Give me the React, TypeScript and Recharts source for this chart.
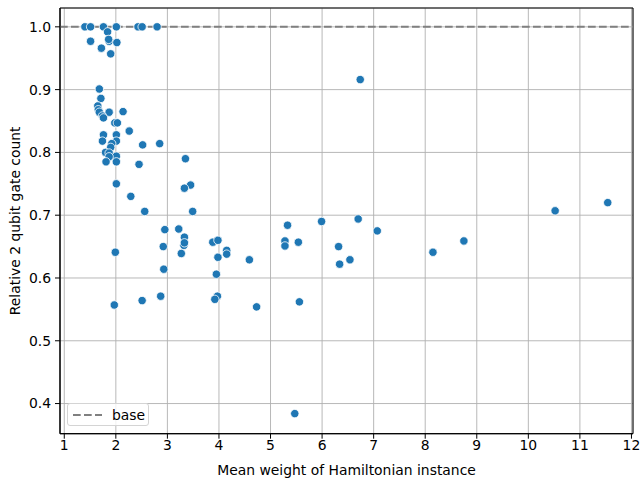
import {
  ScatterChart,
  Scatter,
  XAxis,
  YAxis,
  CartesianGrid,
  ReferenceLine,
  ReferenceArea,
} from "recharts";

// mean weight of each Hamiltonian instance
const weights = [
  1.4, 1.51, 1.76, 2.01, 2.43, 2.51, 2.8, 1.84, 1.51, 1.87, 1.86, 2.02, 1.72, 1.9,
  1.68, 1.71, 1.65, 1.66, 1.68, 1.87, 2.14, 1.74, 1.76, 1.98, 2.03, 2.26, 1.76, 2.01,
  1.74, 2.01, 1.92, 1.9, 2.52, 2.85, 1.8, 1.87, 2.01, 1.87, 1.81, 2.01, 2.45, 3.35,
  2.01, 3.45, 3.33, 2.29, 2.56, 3.49, 2.95, 3.22, 3.33, 3.32, 3.33, 2.92, 3.27, 1.99,
  2.93, 1.97, 2.51, 2.87, 3.88, 3.98, 4.15, 4.15, 3.98, 4.59, 3.95, 3.97, 3.92, 4.73,
  5.56, 5.33, 5.99, 6.7, 7.07, 5.28, 5.28, 5.54, 6.32, 6.54, 6.34, 6.74, 8.15, 8.75,
  10.52, 11.54, 5.47,
];

// relative 2 qubit gate count, same order
const gateCounts = [
  1.0, 1.0, 1.0, 1.0, 1.0, 1.0, 1.0, 0.992, 0.977, 0.977, 0.98, 0.975, 0.966, 0.957,
  0.901, 0.886, 0.874, 0.868, 0.864, 0.864, 0.865, 0.858, 0.855, 0.847, 0.847, 0.834, 0.828, 0.828,
  0.818, 0.818, 0.814, 0.808, 0.812, 0.814, 0.8, 0.799, 0.794, 0.793, 0.785, 0.785, 0.781, 0.79,
  0.75, 0.748, 0.743, 0.73, 0.706, 0.706, 0.677, 0.678, 0.665, 0.652, 0.656, 0.65, 0.639, 0.641,
  0.614, 0.557, 0.564, 0.571, 0.657, 0.66, 0.644, 0.638, 0.633, 0.629, 0.606, 0.571, 0.566, 0.554,
  0.562, 0.684, 0.69, 0.694, 0.675, 0.659, 0.651, 0.657, 0.65, 0.629, 0.622, 0.916, 0.641, 0.659,
  0.707, 0.72, 0.384,
];

const xTicks = [1, 2, 3, 4, 5, 6, 7, 8, 9, 10, 11, 12];
const yTicks = [0.4, 0.5, 0.6, 0.7, 0.8, 0.9, 1.0];

const X_DOMAIN: [number, number] = [0.917, 12.03];
const Y_DOMAIN: [number, number] = [0.352, 1.03];

const FONT = "DejaVu Sans";

// legend box drawn over the plot, lower left
const BaseLegend = () => (
  <div
    style={{
      position: "absolute",
      left: 67,
      top: 403,
      display: "flex",
      alignItems: "center",
      width: 82,
      height: 23,
      boxSizing: "border-box",
      border: "1px solid #d4d4d4",
      borderRadius: 3,
      background: "rgba(255,255,255,0.8)",
      fontFamily: FONT,
      fontSize: 13.9,
      color: "#000",
    }}
  >
    <svg width={40} height={10} style={{ marginLeft: 4 }}>
      <line x1={1} y1={5} x2={30} y2={5} stroke="#808080" strokeWidth={2} strokeDasharray="7.7 3.3" />
    </svg>
    <span>base</span>
  </div>
);

export default function App() {
  const data = weights.map((w, i) => ({ w, g: gateCounts[i] }));

  return (
    <div style={{ position: "absolute", left: 0, top: 0, width: 642, height: 479, background: "#fff" }}>
      <ScatterChart width={642} height={479} margin={{ top: 8, right: 9, left: 0, bottom: 0 }}>
        <CartesianGrid stroke="#b0b0b0" strokeWidth={0.9} />
        <XAxis
          type="number"
          dataKey="w"
          domain={X_DOMAIN}
          allowDataOverflow
          ticks={xTicks}
          height={45.3}
          tickSize={5}
          tickMargin={1}
          stroke="#000"
          tick={{ fill: "#000", fontSize: 13.9, fontFamily: FONT }}
          label={{
            value: "Mean weight of Hamiltonian instance",
            position: "insideBottom",
            offset: 4,
            style: { fill: "#000", fontSize: 13.9, fontFamily: FONT },
          }}
        />
        <YAxis
          type="number"
          dataKey="g"
          domain={Y_DOMAIN}
          allowDataOverflow
          ticks={yTicks}
          width={60}
          tickSize={5}
          tickMargin={4}
          stroke="#000"
          tickFormatter={(v: number) => v.toFixed(1)}
          tick={{ fill: "#000", fontSize: 13.9, fontFamily: FONT }}
          label={{
            value: "Relative 2 qubit gate count",
            angle: -90,
            position: "insideLeft",
            offset: 15,
            style: { fill: "#000", fontSize: 13.9, fontFamily: FONT, textAnchor: "middle" },
          }}
        />
        <Scatter
          data={data}
          fill="#1f77b4"
          isAnimationActive={false}
          shape={(p: any) => (
            <circle cx={p.cx} cy={p.cy} r={4.2} fill="#1f77b4" stroke="#fff" strokeWidth={0.8} />
          )}
        />
        <ReferenceLine y={1} stroke="#808080" strokeWidth={2} strokeDasharray="7.7 3.3" />
        <ReferenceArea
          x1={X_DOMAIN[0]}
          x2={X_DOMAIN[1]}
          y1={Y_DOMAIN[0]}
          y2={Y_DOMAIN[1]}
          fill="none"
          stroke="#000"
          strokeWidth={1}
        />
      </ScatterChart>
      <BaseLegend />
    </div>
  );
}
